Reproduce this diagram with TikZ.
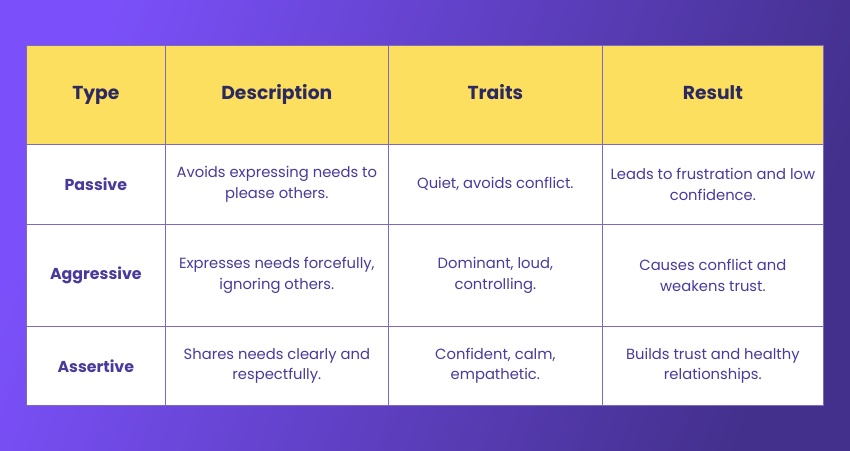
\documentclass[tikz,border=0pt]{standalone}
\usepackage{fontspec}
\setmainfont{Poppins}
\usetikzlibrary{positioning}
\definecolor{bgA}{HTML}{7B50FA}
\definecolor{bgB}{HTML}{43308C}
\definecolor{head}{HTML}{FDDF60}
\definecolor{headtxt}{HTML}{2B2960}
\definecolor{bodytxt}{HTML}{4A3A9C}
\definecolor{rule}{HTML}{7C6AC0}
\begin{document}
\begin{tikzpicture}[x=0.03cm,y=-0.03cm,
  cell/.style={draw=rule, line width=0.6pt, anchor=north west, inner sep=0pt, align=center},
  hcell/.style={cell, fill=head, font=\fontsize{16}{19}\selectfont\bfseries, text=headtxt, text height=2.2ex, text depth=0.6ex},
  bcell/.style={cell, fill=white, font=\fontsize{12.6}{17.5}\selectfont, text=bodytxt},
]
\shade[left color=bgA, right color=bgB, shading angle=70] (0,0) rectangle (850,450);
\useasboundingbox (0,0) rectangle (850,450);

% header
\foreach \name/\x/\w/\txt in {type/26/139/Type, desc/165/223/Description, traits/388/214/Traits, res/602/221/Result}
  \node[hcell, minimum width=\w*0.03cm, minimum height=99*0.03cm] (h-\name) at (\x,45) {\txt};

% rows
\foreach \r/\y/\h/\a/\b/\c/\d in {
  1/144/80/{Passive}/{Avoids expressing needs to\\please others.}/{Quiet, avoids conflict.}/{Leads to frustration and low\\confidence.},
  2/224/102/{Aggressive}/{Expresses needs forcefully,\\ignoring others.}/{Dominant, loud,\\controlling.}/{Causes conflict and\\weakens trust.},
  3/326/79/{Assertive}/{Shares needs clearly and\\respectfully.}/{Confident, calm,\\empathetic.}/{Builds trust and healthy\\relationships.}}
{
  \node[bcell, font=\fontsize{13.5}{17}\selectfont\bfseries, minimum width=139*0.03cm, minimum height=\h*0.03cm] (r\r-type) at (26,\y) {\a};
  \node[bcell, minimum width=223*0.03cm, minimum height=\h*0.03cm] (r\r-desc) at (165,\y) {\b};
  \node[bcell, minimum width=214*0.03cm, minimum height=\h*0.03cm] (r\r-traits) at (388,\y) {\c};
  \node[bcell, minimum width=221*0.03cm, minimum height=\h*0.03cm] (r\r-res) at (602,\y) {\d};
}
\end{tikzpicture}
\end{document}
